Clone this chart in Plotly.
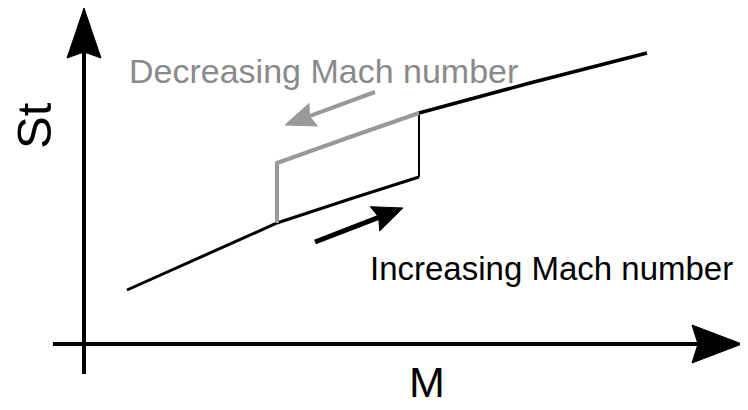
import numpy as np
import plotly.graph_objects as go

W, H = 740, 402  # page body has an 8px margin; fit inside the 748x410 window

# Schematic data (drawing units: x to the right, y upward)
lower_branch_x = [127, 200, 277, 350, 419]
lower_branch_y = [120, 153, 187, 211, 233]
upper_branch_x = [419, 530, 647]
upper_branch_y = [297, 327, 357]
decreasing_x = [277, 277, 350, 419]
decreasing_y = [187, 247, 273, 297]
jump_x = [419, 419]
jump_y = [233, 297]

# Axes arrows (start, tip)
x_axis_arrow = [(53, 66), (742, 66)]
y_axis_arrow = [(84, 36), (84, 402)]
# Direction arrows (start, tip)
inc_arrow = [(315, 168), (403, 202)]
dec_arrow = [(375, 318), (285, 285)]

labels = {
    "dec": "Decreasing Mach number",
    "inc": "Increasing Mach number",
    "x": "M",
    "y": "St",
}

fig = go.Figure()


def line(xs, ys, color, width):
    fig.add_trace(go.Scatter(x=xs, y=ys, mode="lines",
                             line=dict(color=color, width=width),
                             hoverinfo="skip", showlegend=False))


def arrow(start, tip, color, shaft_w, head_len, head_w, notch):
    s = np.array(start, float)
    t = np.array(tip, float)
    d = (t - s) / np.linalg.norm(t - s)
    n = np.array([-d[1], d[0]])
    base = t - d * head_len
    back = t - d * (head_len - notch)
    line([s[0], back[0]], [s[1], back[1]], color, shaft_w)
    pts = [t, base + n * head_w / 2, back, base - n * head_w / 2, t]
    fig.add_trace(go.Scatter(x=[p[0] for p in pts], y=[p[1] for p in pts],
                             mode="lines", fill="toself", fillcolor=color,
                             line=dict(color=color, width=1),
                             hoverinfo="skip", showlegend=False))


BLACK = "#000000"
GREY = "#999999"

line(lower_branch_x, lower_branch_y, BLACK, 3)
line(upper_branch_x, upper_branch_y, BLACK, 3.5)
line(jump_x, jump_y, BLACK, 2)
line(decreasing_x, decreasing_y, GREY, 4)

arrow(*x_axis_arrow, BLACK, 4, 50, 38, 6)
arrow(*y_axis_arrow, BLACK, 4, 50, 34, 6)
arrow(*inc_arrow, BLACK, 5, 30, 26, 4)
arrow(*dec_arrow, GREY, 4, 30, 24, 4)

font = "Liberation Sans, Arial, sans-serif"
ann = [
    dict(x=127, y=339, text=labels["dec"], xanchor="left", yanchor="middle",
         font=dict(size=34, color="#8a8a8a", family=font)),
    dict(x=368, y=142, text=labels["inc"], xanchor="left", yanchor="middle",
         font=dict(size=33, color=BLACK, family=font)),
    dict(x=427, y=28, text=labels["x"], xanchor="center", yanchor="middle",
         font=dict(size=43, color=BLACK, family=font)),
    dict(x=34, y=284, text=labels["y"], xanchor="center", yanchor="middle",
         textangle=-90, font=dict(size=49, color=BLACK, family=font)),
]
for a in ann:
    fig.add_annotation(xref="x", yref="y", showarrow=False, **a)

fig.update_layout(
    width=W, height=H, margin=dict(l=0, r=0, t=0, b=0),
    paper_bgcolor="white", plot_bgcolor="white",
    xaxis=dict(range=[8, 748], visible=False, fixedrange=True),
    yaxis=dict(range=[0, 402], visible=False, fixedrange=True),
    showlegend=False,
)

fig.write_html("out.html")
